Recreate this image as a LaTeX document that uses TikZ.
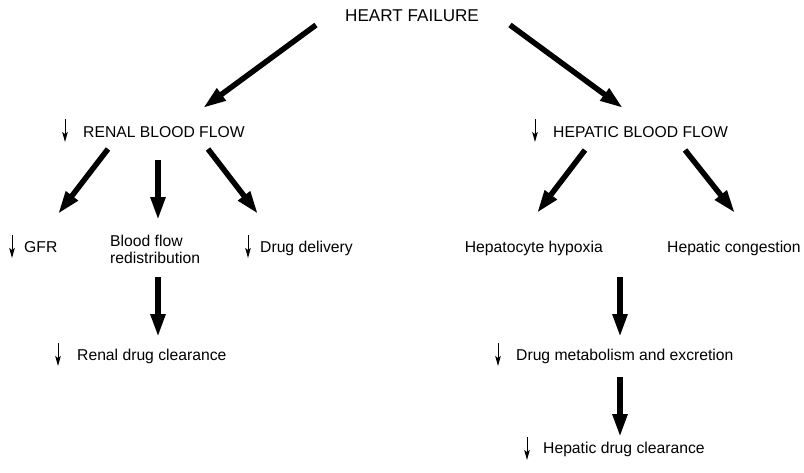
\documentclass[tikz,border=0pt]{standalone}
\usepackage{fontspec}
\setmainfont{Liberation Sans}
\usetikzlibrary{arrows.meta}
\begin{document}
\begin{tikzpicture}[x=1pt, y=-1pt,
  txt/.style={inner sep=0pt, anchor=base west, font=\fontsize{15.7}{16.5}\selectfont},
  big/.style={line width=5.5pt, -{Triangle[length=23pt,width=14pt]}},
  dn/.style={line width=1pt, -{Stealth[length=10pt,width=5.5pt,inset=2pt]}}]

  \useasboundingbox (0,0) rectangle (804,472);

  % --- 1. 見出し ---
  \node[txt, font=\fontsize{17.1}{18}\selectfont] (heart) at (345,21.5) {HEART FAILURE};
  \node[txt] (renal) at (83,137) {RENAL BLOOD FLOW};
  \node[txt] (hepatic) at (553,137) {HEPATIC BLOOD FLOW};

  % --- 2. 腎臓側 ---
  \node[txt] (gfr) at (24,252) {GFR};
  \node[txt, anchor=north west, align=left] (redist) at (110,235) {Blood flow\\redistribution};
  \node[txt] (delivery) at (260,252) {Drug delivery};
  \node[txt] (rdc) at (77,360) {Renal drug clearance};

  % --- 3. 肝臓側 ---
  \node[txt, anchor=base east] (hypoxia) at (603,252) {Hepatocyte hypoxia};
  \node[txt] (congestion) at (667,252) {Hepatic congestion};
  \node[txt] (metab) at (516,360) {Drug metabolism and excretion};
  \node[txt] (hdc) at (543,453) {Hepatic drug clearance};

  % --- 4. 太い矢印 ---
  \draw[big] ([shift={(-29,3.5)}]heart.base west) -- ([shift={(120,-29)}]renal.base west);
  \draw[big] ([shift={(165,3.5)}]heart.base west) -- ([shift={(70,-29)}]hepatic.base west);

  \draw[big] ([shift={(25,12)}]renal.base west) -- ([shift={(34,-38)}]gfr.base west);
  \draw[big] ([shift={(75,23)}]renal.base west) -- ([shift={(48,-15)}]redist.north west);
  \draw[big] ([shift={(125,12)}]renal.base west) -- ([shift={(-2,-38)}]delivery.base west);
  \draw[big] ([shift={(48,42)}]redist.north west) -- ([shift={(81,-23)}]rdc.base west);

  \draw[big] ([shift={(32,13)}]hepatic.base west) -- ([shift={(-66,-39)}]hypoxia.base east);
  \draw[big] ([shift={(132,13)}]hepatic.base west) -- ([shift={(68,-39)}]congestion.base west);
  \draw[big] ([shift={(17,25)}]hypoxia.base east) -- ([shift={(104,-23)}]metab.base west);
  \draw[big] ([shift={(104,17)}]metab.base west) -- ([shift={(77,-16)}]hdc.base west);

  % --- 5. 減少を示す細い矢印 ---
  \draw[dn] ([shift={(-18,-18)}]renal.base west) -- ++(0,23);
  \draw[dn] ([shift={(-18,-18)}]hepatic.base west) -- ++(0,23);
  \draw[dn] ([shift={(-12,-17)}]gfr.base west) -- ++(0,23);
  \draw[dn] ([shift={(-12,-17)}]delivery.base west) -- ++(0,23);
  \draw[dn] ([shift={(-19,-17)}]rdc.base west) -- ++(0,23);
  \draw[dn] ([shift={(-18,-17)}]metab.base west) -- ++(0,23);
  \draw[dn] ([shift={(-16,-16)}]hdc.base west) -- ++(0,23);

\end{tikzpicture}
\end{document}
